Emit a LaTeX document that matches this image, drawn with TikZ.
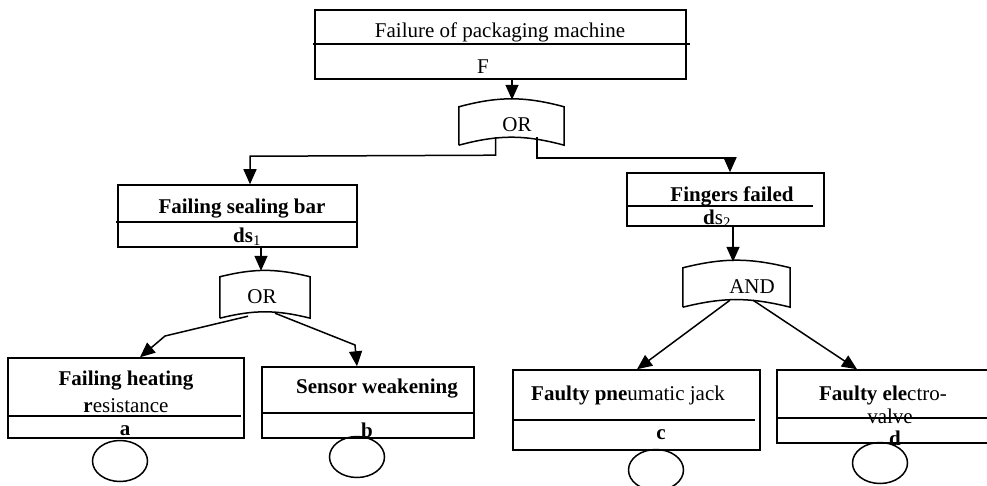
\documentclass[tikz,border=0pt]{standalone}
\usepackage{fontspec}
\setmainfont{Liberation Serif}
\usepackage{tikz}
\usetikzlibrary{arrows.meta,positioning,calc,shapes.geometric}

\begin{document}
\begin{tikzpicture}[
      x=1pt, y=-1pt,
      evbox/.style={draw, line width=1.5pt, minimum width=#1, inner sep=0pt},
      gatebox/.style={inner sep=0pt, minimum width=#1},
      txt/.style={inner sep=0pt, font=\fontsize{21}{22}\selectfont},
      basic/.style={draw, ellipse, line width=1.5pt, inner sep=0pt, minimum width=55pt, minimum height=41pt},
      conn/.style={line width=1.5pt, -{Triangle[length=15pt,width=13pt]}},
      gateline/.style={line width=1.5pt}
    ]
    \useasboundingbox (0,0) rectangle (987,486);

    % Event boxes
    \node[evbox=371pt, minimum height=69pt] (top) at (500.5,44.5) {};
    \node[evbox=239pt, minimum height=62pt] (seal) at (237.5,216) {};
    \node[evbox=197pt, minimum height=53pt] (fing) at (725.5,199.5) {};
    \node[evbox=236pt, minimum height=80pt] (heat) at (126,398) {};
    \node[evbox=212pt, minimum height=71pt] (sens) at (368,402.5) {};
    \node[evbox=247pt, minimum height=80pt] (jack) at (636.5,410) {};
    \node[evbox=220pt, minimum height=73pt] (valv) at (887,406.5) {};

    % Dividers
    \draw[line width=1.5pt] (313,44) -- (690,44);
    \draw[line width=1.5pt] (116,222) -- (357,222);
    \draw[line width=1.5pt] (627,206) -- (813,206);
    \draw[line width=1.5pt] (7,416) -- (241,416);
    \draw[line width=1.5pt] (262,413) -- (474,413);
    \draw[line width=1.5pt] (513,420) -- (755,420);
    \draw[line width=1.5pt] (777,418) -- (997,418);

    % Texts
    \node[txt] (topT) at (500,32) {Failure of packaging machine};
    \node[txt] (topF) at (483,67) {F};
    \node[txt] (sealT) at (242,209) {\textbf{Failing sealing bar}};
    \node[txt] (sealC) at (247,237) {\textbf{ds}\textsubscript{1}};
    \node[txt] (fingT) at (732,196) {\textbf{Fingers failed}};
    \node[txt] (fingC) at (717,219) {\textbf{d}s\textsubscript{2}};
    \node[txt] (heatT) at (126,381) {\textbf{Failing heating}};
    \node[txt] (heatU) at (126,406) {\textbf{r}esistance};
    \node[txt] (heatC) at (125,431) {\textbf{a}};
    \node[txt] (sensT) at (377,389) {\textbf{Sensor weakening}};
    \node[txt] (sensC) at (367,430) {\textbf{b}};
    \node[txt] (jackT) at (628,395) {\textbf{Faulty pne}umatic jack};
    \node[txt] (jackC) at (661,435) {\textbf{c}};
    \node[txt] (valvT) at (883,395) {\textbf{Faulty ele}ctro-};
    \node[txt] (valvU) at (890,416) {valve};
    \node[txt] (valvC) at (895,438) {\textbf{d}};

    % Gates
    \node[gatebox=105pt, minimum height=38pt] (or1) at (511.5,126) {};
    \node[gatebox=90pt, minimum height=41pt] (or2) at (265,297.5) {};
    \node[gatebox=107pt, minimum height=39pt] (and) at (736.5,287.5) {};
    \foreach \g/\b in {or1/15, or2/14, and/14} {
      \draw[gateline] (\g.south west) -- (\g.north west) to[bend left=\b] (\g.north east)
        -- (\g.south east) to[bend right=\b] (\g.south west);
    }
    \node[txt] (or1T) at (517,125) {OR};
    \node[txt] (or2T) at (262,297) {OR};
    \node[txt] (andT) at (752,287) {AND};

    % Basic events
    \node[basic] (ea) at (120,461) {};
    \node[basic] (eb) at (357,457) {};
    \node[basic] (ec) at (656,470) {};
    \node[basic] (ed) at (880,463) {};

    % Connectors
    \draw[conn] ([xshift=11.5pt]top.south) -- ($(or1.north)+(0.5,-7)$);
    \draw[conn] ($(or1.south)+(-16,-8)$) -- ++(0,18) -- ($(seal.north)+(12.5,-28)$) -- ([xshift=12.5pt]seal.north);
    \draw[conn] ($(or1.south)+(25.5,-8)$) -- ++(0,21) -| ([xshift=4.5pt]fing.north);
    \draw[conn] ([xshift=23.5pt]seal.south) -- ($(or2.north)+(-4,-6)$);
    \draw[conn] ([xshift=7.5pt]fing.south) -- ($(and.north)+(-3.5,-6)$);
    \draw[conn] ($(or2.south)+(-17,-2)$) -- (165,336) -- ([xshift=14pt]heat.north);
    \draw[conn] ($(or2.south)+(10,-5)$) -- (355,345) -- ([xshift=-11pt]sens.north);
    \draw[conn] ($(and.south)+(-6.5,-7)$) -- ([xshift=0.5pt]jack.north);
    \draw[conn] ($(and.south)+(16.5,-7)$) -- ([xshift=-30pt]valv.north);
  \end{tikzpicture}
\end{document}
